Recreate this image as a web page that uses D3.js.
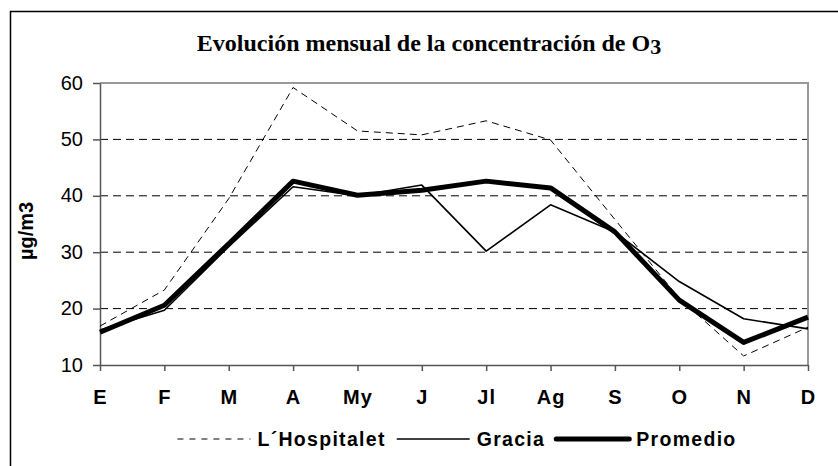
<!DOCTYPE html>
<html><head><meta charset="utf-8">
<script src="https://cdn.jsdelivr.net/npm/d3@7"></script>
<style>body{margin:0;background:#fff;overflow:hidden}</style>
</head><body>
<svg id="c" width="838" height="466"></svg>
<script>
const months = ["E","F","M","A","My","J","Jl","Ag","S","O","N","D"];
const hospitalet = [16.9, 23.3, 39.5, 59.2, 51.5, 50.8, 53.3, 49.9, 35.8, 21.8, 11.6, 16.7];
const gracia     = [16.2, 19.7, 31.0, 41.6, 40.0, 41.9, 30.2, 38.4, 33.6, 24.8, 18.2, 16.4];
const promedio   = [15.8, 20.6, 31.5, 42.6, 40.1, 41.0, 42.6, 41.4, 33.6, 21.5, 14.0, 18.5];
const yTicks = [10, 20, 30, 40, 50, 60];
const seriesNames = ["L\u00B4Hospitalet", "Gracia", "Promedio"];
const titleMain = "Evoluci\u00F3n mensual de la concentraci\u00F3n de O";
const titleSub = "3";
const yTitle = "\u00B5g/m3";

const W = 838, H = 466;
const m = {left: 100, top: 83, right: 808, bottom: 365};
const SANS = "'Liberation Sans', Arial, sans-serif";
const SERIF = "'Liberation Serif', 'Times New Roman', serif";

const svg = d3.select("#c");
svg.append("rect").attr("width", W).attr("height", H).attr("fill", "#fff");
svg.append("rect").attr("x", 10.5).attr("y", 11.5).attr("width", 860).attr("height", 490)
  .attr("fill", "none").attr("stroke", "#000").attr("stroke-width", 1.5);

const x = d3.scalePoint().domain(months).range([m.left, m.right]);
const y = d3.scaleLinear().domain([10, 60]).range([m.bottom, m.top]);

// gridlines
svg.append("g").selectAll("line").data(yTicks.filter(t => t > 10 && t < 60)).join("line")
  .attr("x1", m.left).attr("x2", m.right)
  .attr("y1", d => y(d)).attr("y2", d => y(d))
  .attr("stroke", "#000").attr("stroke-width", 1).attr("stroke-dasharray", "8,5");

// plot border top/right
svg.append("path").attr("d", `M${m.left},${y(60)}H${m.right}V${m.bottom}`)
  .attr("fill", "none").attr("stroke", "#999").attr("stroke-width", 2);

// axes
const yAxis = svg.append("g").attr("transform", `translate(${m.left},0)`)
  .call(d3.axisLeft(y).tickValues(yTicks).tickFormat(d3.format("d")).tickSize(7).tickSizeOuter(0).tickPadding(10));
yAxis.selectAll("text").attr("font-family", SANS).attr("font-size", 20).attr("fill", "#000").attr("dy", "0.3em");
yAxis.selectAll("line,path").attr("stroke", "#555").attr("stroke-width", 1.5);

const xAxis = svg.append("g").attr("transform", `translate(0,${m.bottom})`)
  .call(d3.axisBottom(x).tickSize(6).tickSizeOuter(0).tickPadding(19));
xAxis.selectAll("text").attr("font-family", SANS).attr("font-size", 20).attr("font-weight", "bold")
  .attr("fill", "#000").attr("letter-spacing", "1px");
xAxis.selectAll("line,path").attr("stroke", "#555").attr("stroke-width", 1.5);

// series
const line = d3.line().x((d, i) => x(months[i])).y(d => y(d));
const styles = [
  {w: 1, dash: "7,5", cap: "butt"},
  {w: 1.6, dash: null, cap: "butt"},
  {w: 5, dash: null, cap: "round"}
];
[hospitalet, gracia, promedio].forEach((s, k) => {
  svg.append("path").datum(s).attr("d", line)
    .attr("fill", "none").attr("stroke", "#000")
    .attr("stroke-width", styles[k].w)
    .attr("stroke-dasharray", styles[k].dash)
    .attr("stroke-linejoin", "round");
});

// title
const t = svg.append("text").attr("x", 429).attr("y", 51).attr("text-anchor", "middle")
  .attr("font-family", SERIF).attr("font-weight", "bold").attr("font-size", 24).attr("fill", "#000");
t.append("tspan").text(titleMain);
t.append("tspan").attr("font-size", 22).attr("dy", 3).text(titleSub);

// y title
svg.append("text").attr("transform", `translate(33,${(y(60) + y(10)) / 2 + 7}) rotate(-90)`)
  .attr("text-anchor", "middle").attr("font-family", SANS).attr("font-weight", "bold")
  .attr("font-size", 20).attr("fill", "#000").text(yTitle);

// legend
const lg = svg.append("g");
const sampleLen = 73, gapA = 7, gapB = 11, legY = 439;
let cursor = 0;
seriesNames.forEach((name, k) => {
  const g = lg.append("g");
  g.append("line").attr("x1", cursor).attr("x2", cursor + sampleLen).attr("y1", legY).attr("y2", legY)
    .attr("stroke", "#000").attr("stroke-width", styles[k].w)
    .attr("stroke-dasharray", styles[k].dash ? "6,6" : null)
    .attr("stroke-linecap", styles[k].cap);
  const tx = g.append("text").attr("x", cursor + sampleLen + gapA).attr("y", legY + 6.5)
    .attr("font-family", SANS).attr("font-weight", "bold").attr("font-size", 19.5)
    .attr("letter-spacing", "1.3px").attr("fill", "#000").text(name);
  cursor += sampleLen + gapA + tx.node().getComputedTextLength() + gapB;
});
const total = cursor - gapB;
lg.attr("transform", `translate(${457 - total / 2},0)`);
</script>
</body></html>
